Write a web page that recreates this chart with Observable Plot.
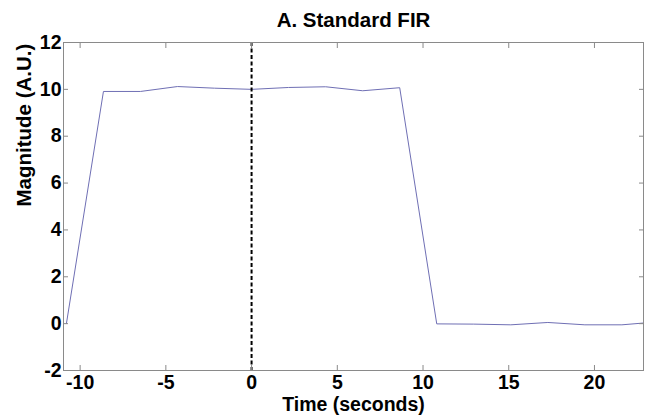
<!DOCTYPE html>
<html>
<head>
<meta charset="utf-8">
<script src="https://cdn.jsdelivr.net/npm/d3@7"></script>
<script src="https://cdn.jsdelivr.net/npm/@observablehq/plot@0.6"></script>
<style>
  html, body { margin: 0; padding: 0; background: #fff; }
  #chart svg { display: block; }
</style>
</head>
<body>
<div id="chart"></div>
<script>
const titleText = "A. Standard FIR";
const xLabel = "Time (seconds)";
const yLabel = "Magnitude (A.U.)";
const xTicks = [-10, -5, 0, 5, 10, 15, 20];
const yTicks = [-2, 0, 2, 4, 6, 8, 10, 12];
const times = [-10.8, -8.64, -6.48, -4.32, -2.16, 0, 2.16, 4.32, 6.48, 8.64, 10.8, 12.96, 15.12, 17.28, 19.44, 21.6, 23.76];
const magnitude = [0, 9.91, 9.91, 10.12, 10.05, 10.0, 10.08, 10.11, 9.94, 10.07, -0.01, -0.02, -0.05, 0.05, -0.05, -0.05, 0.08];
const onsetTime = [0];

const data = times.map((t, i) => ({t, v: magnitude[i]}));
const fmt = d => String(d);
const font = "Liberation Sans, Arial, Helvetica, sans-serif";
const axisGray = "#8a8a8a";

const chart = Plot.plot({
  width: 645,
  height: 419,
  marginLeft: 63,
  marginRight: 2,
  marginTop: 42,
  marginBottom: 49,
  style: {fontFamily: font, background: "#fff", overflow: "visible"},
  x: {domain: [-10.97, 22.86]},
  y: {domain: [-2, 12]},
  marks: [
    Plot.line(data, {x: "t", y: "v", stroke: "#6f6fb4", strokeWidth: 1, clip: true}),
    Plot.ruleX(onsetTime, {stroke: "#000", strokeWidth: 2, strokeDasharray: "4,2.5"}),
    Plot.frame({stroke: axisGray, strokeWidth: 1}),
    // inward ticks on all four sides
    Plot.axisX(xTicks, {anchor: "bottom", tickSize: -5, text: null, stroke: axisGray, label: null}),
    Plot.axisX(xTicks, {anchor: "top", tickSize: -5, text: null, stroke: axisGray, label: null}),
    Plot.axisY(yTicks, {anchor: "left", tickSize: -5, text: null, stroke: axisGray, label: null}),
    Plot.axisY(yTicks, {anchor: "right", tickSize: -5, text: null, stroke: axisGray, label: null}),
    // tick labels
    Plot.axisX(xTicks, {anchor: "bottom", tickSize: 0, tickPadding: 5, tickFormat: fmt, fontSize: 19.5, fontWeight: "bold", fill: "#000", label: null}),
    Plot.axisY(yTicks, {anchor: "left", tickSize: 0, tickPadding: 2, tickFormat: fmt, fontSize: 19.5, fontWeight: "bold", fill: "#000", label: null}),
    // title and axis labels
    Plot.text([titleText], {frameAnchor: "top", dy: -22, fontSize: 20.5, fontWeight: "bold", fill: "#000", lineAnchor: "middle"}),
    Plot.text([xLabel], {frameAnchor: "bottom", dy: 34.5, fontSize: 19.5, fontWeight: "bold", fill: "#000", lineAnchor: "middle"}),
    Plot.text([yLabel], {frameAnchor: "left", dx: -39, rotate: -90, fontSize: 20.5, fontWeight: "bold", fill: "#000", lineAnchor: "middle"})
  ]
});
document.getElementById("chart").appendChild(chart);
</script>
</body>
</html>
